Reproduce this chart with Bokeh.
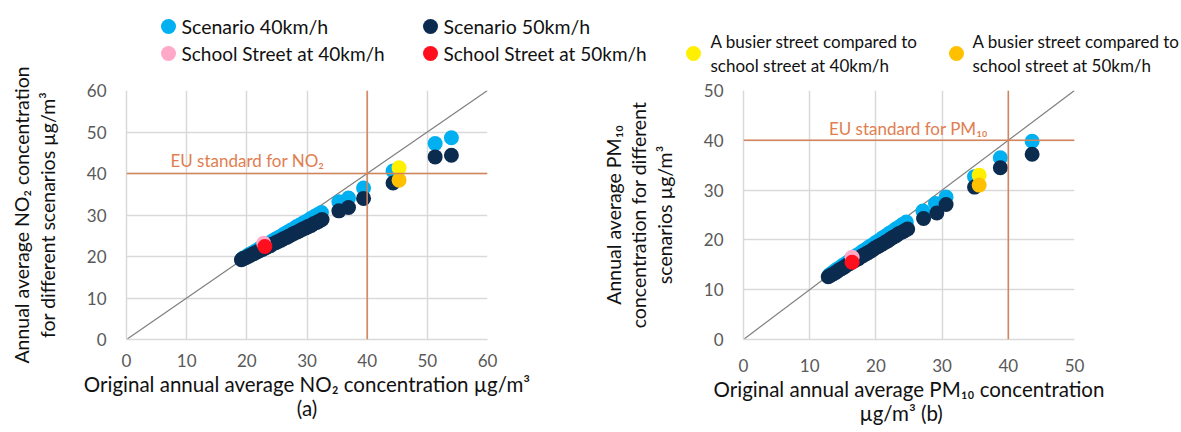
from bokeh.plotting import figure
from bokeh.layouts import column, row
from bokeh.models import Range1d, FixedTicker, Span, Label
from bokeh.core.properties import value
from bokeh.embed import file_html
from bokeh.resources import INLINE

FONT = "Lato"

# ---------------- data: (a) NO2 ----------------
no2_s40_x = [19.3, 19.8, 20.3, 20.8, 21.3, 21.8, 22.3, 22.8, 23.3, 23.8, 24.3, 24.8, 25.3, 25.8,
             26.3, 26.8, 27.3, 27.8, 28.3, 28.8, 29.3, 29.8, 30.3, 30.8, 31.3, 31.8, 32.4,
             35.3, 36.9, 39.4, 44.3, 51.3, 54.0]
no2_s40_y = [19.5, 19.9, 20.4, 20.8, 21.2, 21.6, 22.1, 22.5, 22.9, 23.3, 23.8, 24.2, 24.6, 25.0,
             25.5, 25.9, 26.3, 26.7, 27.2, 27.6, 28.0, 28.4, 28.8, 29.3, 29.7, 30.1, 30.6,
             33.2, 34.1, 36.5, 40.6, 47.2, 48.6]
no2_s50_x = [19.1, 19.4, 19.8, 20.2, 20.6, 21.0, 21.3, 21.7, 22.1, 22.6, 23.0, 23.4, 23.9, 24.3,
             24.8, 25.2, 25.7, 26.1, 26.6, 27.0, 27.5, 27.9, 28.4, 28.8, 29.3, 29.8, 30.2, 30.7,
             31.1, 31.6, 32.0, 32.5, 35.3, 36.9, 39.4, 44.3, 51.3, 54.0]
no2_s50_y = [19.2, 19.5, 19.7, 20.0, 20.3, 20.6, 20.8, 21.1, 21.4, 21.7, 22.0, 22.3, 22.6, 23.0,
             23.3, 23.6, 23.9, 24.3, 24.6, 24.9, 25.3, 25.6, 25.9, 26.2, 26.6, 26.9, 27.2, 27.5,
             27.9, 28.2, 28.5, 28.9, 31.0, 31.8, 34.0, 37.7, 44.0, 44.4]
no2_school40 = (22.8, 23.2)
no2_school50 = (23.0, 22.4)
no2_busy40 = (45.3, 41.4)
no2_busy50 = (45.3, 38.4)

# ---------------- data: (b) PM10 ----------------
pm_s40_x = [13.0, 13.5, 14.0, 14.5, 15.0, 15.5, 16.0, 16.5, 17.0, 17.5, 18.0, 18.5, 19.0, 19.5,
            20.0, 20.5, 21.0, 21.5, 22.0, 22.5, 23.0, 23.5, 24.0, 24.6,
            27.1, 29.0, 30.6, 34.9, 38.8, 43.6]
pm_s40_y = [13.0, 13.5, 14.0, 14.4, 14.9, 15.3, 15.8, 16.3, 16.8, 17.2, 17.7, 18.1, 18.6, 19.0,
            19.5, 19.9, 20.4, 20.8, 21.3, 21.7, 22.2, 22.6, 23.1, 23.6,
            25.8, 27.3, 28.6, 32.7, 36.5, 39.8]
pm_s50_x = [12.8, 13.2, 13.6, 14.0, 14.4, 14.8, 15.2, 15.6, 16.0, 16.5, 16.9, 17.3, 17.7, 18.1,
            18.5, 18.9, 19.4, 19.8, 20.2, 20.6, 21.0, 21.5, 21.9, 22.3, 22.7, 23.1, 23.5, 24.0,
            24.4, 24.8, 27.2, 29.2, 30.6, 34.9, 38.8, 43.6]
pm_s50_y = [12.6, 12.9, 13.2, 13.5, 13.9, 14.2, 14.5, 14.9, 15.2, 15.6, 15.9, 16.2, 16.6, 16.9,
            17.2, 17.5, 17.9, 18.3, 18.6, 18.9, 19.2, 19.6, 19.9, 20.3, 20.6, 20.9, 21.3, 21.6,
            21.9, 22.2, 24.3, 25.4, 27.1, 30.6, 34.5, 37.2]
pm_school40 = (16.4, 16.5)
pm_school50 = (16.4, 15.5)
pm_busy40 = (35.6, 33.0)
pm_busy50 = (35.6, 31.0)

eu_no2 = 40
eu_pm10 = 40
ticks_a = [0, 10, 20, 30, 40, 50, 60]
ticks_b = [0, 10, 20, 30, 40, 50]

series_labels = ["Scenario 40km/h", "Scenario 50km/h",
                 "School Street at 40km/h", "School Street at 50km/h",
                 "A busier street compared to\nschool street at 40km/h",
                 "A busier street compared to\nschool street at 50km/h"]
series_colors = ["#00B0F0", "#0B2B4F", "#FFA8C8", "#FF0F1E", "#FFF000", "#FFC000"]

EU_COLOR = "#D4845A"
EU_TEXT = "#E07E50"
GRID = "#D9D9D9"
TICK_COLOR = "#595959"
DOT = 15


def make_panel(width, height, xmax, ticks, bl, br, bt, bb, xlabel, ylabel, xstand):
    p = figure(width=width, height=height, x_range=Range1d(0, xmax), y_range=Range1d(0, xmax),
               output_backend="svg", toolbar_location=None,
               min_border_left=bl, min_border_right=br, min_border_top=bt, min_border_bottom=bb)
    p.outline_line_color = None
    p.border_fill_color = None
    for ax in (p.xaxis[0], p.yaxis[0]):
        ax.ticker = FixedTicker(ticks=ticks)
        ax.axis_line_color = GRID
        ax.axis_line_width = 1.5
        ax.major_tick_line_color = None
        ax.minor_tick_line_color = None
        ax.major_tick_out = 0
        ax.major_tick_in = 0
        ax.minor_tick_out = 0
        ax.minor_tick_in = 0
        ax.major_label_text_font = FONT
        ax.major_label_text_font_size = "17px"
        ax.major_label_text_color = TICK_COLOR
        ax.major_label_text_line_height = 1.0
        ax.axis_label_text_font = FONT
        ax.axis_label_text_font_style = "normal"
        ax.axis_label_text_color = "#111111"
    p.xaxis[0].axis_label = xlabel
    p.yaxis[0].axis_label = ylabel
    p.xaxis[0].axis_label_text_font_size = "20.5px"
    p.xaxis[0].axis_label_text_line_height = 1.0
    p.yaxis[0].axis_label_text_font_size = "19.5px"
    p.yaxis[0].axis_label_text_line_height = 1.1
    p.xaxis[0].major_label_standoff = xstand
    p.yaxis[0].major_label_standoff = 20
    p.xaxis[0].axis_label_standoff = 2
    p.yaxis[0].axis_label_standoff = 25
    for g in (p.xgrid[0], p.ygrid[0]):
        g.ticker = FixedTicker(ticks=ticks)
        g.grid_line_color = GRID
        g.grid_line_width = 1.5
    return p


def add_points(p, s40x, s40y, s50x, s50y, sc40, sc50, b40, b50):
    p.scatter(s40x, s40y, size=DOT, color=series_colors[0], line_color=None)
    p.scatter(s50x, s50y, size=DOT, color=series_colors[1], line_color=None)
    p.scatter([sc40[0]], [sc40[1]], size=DOT, color=series_colors[2], line_color=None)
    p.scatter([sc50[0]], [sc50[1]], size=DOT, color=series_colors[3], line_color=None)
    p.scatter([b40[0]], [b40[1]], size=DOT, color=series_colors[4], line_color=None)
    p.scatter([b50[0]], [b50[1]], size=DOT, color=series_colors[5], line_color=None)


# ---------------- legend strip (screen-like coordinates) ----------------
leg = figure(width=1181, height=78, x_range=Range1d(0, 1181), y_range=Range1d(78, 0),
             output_backend="svg", toolbar_location=None, min_border=0)
leg.axis.visible = False
leg.grid.visible = False
leg.outline_line_color = None
leg_mx = [168, 430, 168, 430, 693, 956]
leg_my = [26, 26, 53, 53, 53, 53]
leg_tx = [181, 443, 181, 443, 710, 972]
leg_fs = ["19.5px", "19.5px", "19px", "19px", "17px", "17px"]
leg.scatter(leg_mx, leg_my, size=15, color=series_colors, line_color=None)
leg.text(leg_tx, leg_my, text=series_labels, text_font=value(FONT), text_font_size=leg_fs,
         text_baseline="middle", text_color="#111111", text_line_height=1.15)

# ---------------- panel (a) ----------------
pa = make_panel(583, 370, 60, ticks_a, 126, 96, 25, 87,
                "Original annual average NO\u2082 concentration \u00b5g/m\u00b3\n(a)",
                "Annual average NO\u2082 concentration\nfor different scenarios \u00b5g/m\u00b3", 14)
pa.line([0, 60], [0, 60], color="#7F7F7F", line_width=1.2)
pa.add_layout(Span(location=eu_no2, dimension="height", line_color=EU_COLOR, line_width=1.5))
pa.add_layout(Span(location=eu_no2, dimension="width", line_color=EU_COLOR, line_width=1.5))
pa.add_layout(Label(x=7.3, y=43.1, text="EU standard for NO\u2082", text_font=FONT,
                    text_font_size="17px", text_color=EU_TEXT, text_baseline="middle"))
add_points(pa, no2_s40_x, no2_s40_y, no2_s50_x, no2_s50_y,
           no2_school40, no2_school50, no2_busy40, no2_busy50)

# ---------------- panel (b) ----------------
pb = make_panel(598, 370, 50, ticks_b, 160, 107, 28, 93,
                "Original annual average PM\u2081\u2080 concentration\n\u00b5g/m\u00b3    (b)",
                "Annual average PM\u2081\u2080\nconcentration for different\nscenarios \u00b5g/m\u00b3", 19)
pb.line([0, 50], [0, 50], color="#7F7F7F", line_width=1.2)
pb.add_layout(Span(location=eu_pm10, dimension="height", line_color=EU_COLOR, line_width=1.5))
pb.add_layout(Span(location=eu_pm10, dimension="width", line_color=EU_COLOR, line_width=1.5))
pb.add_layout(Label(x=12.9, y=42.4, text="EU standard for PM\u2081\u2080", text_font=FONT,
                    text_font_size="17px", text_color=EU_TEXT, text_baseline="middle"))
add_points(pb, pm_s40_x, pm_s40_y, pm_s50_x, pm_s50_y,
           pm_school40, pm_school50, pm_busy40, pm_busy50)

panels = row(pa, pb, spacing=0, styles={"margin-top": "-16px"})
layout = column(leg, panels, spacing=0)
open("out.html", "w").write(file_html(layout, INLINE))
